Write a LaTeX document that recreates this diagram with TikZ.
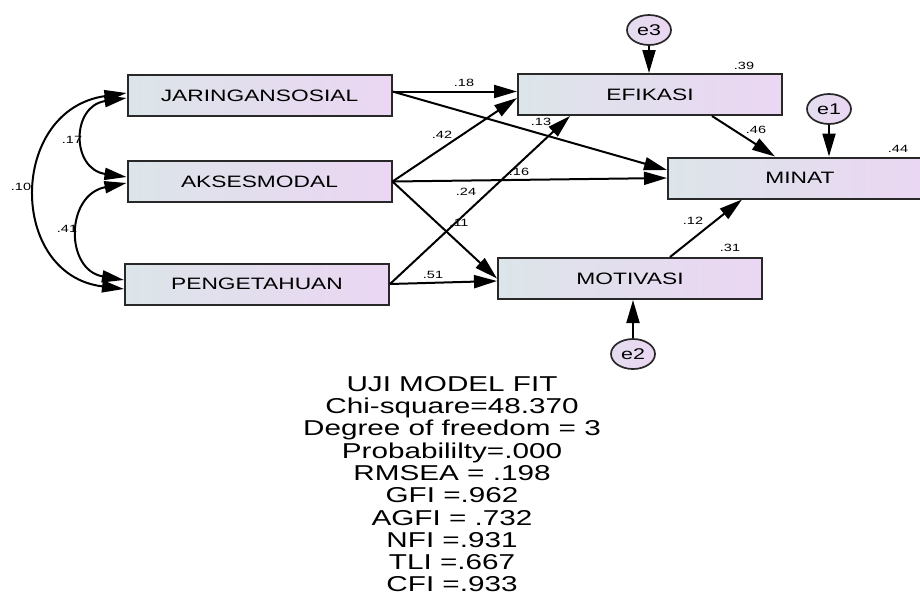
\documentclass[tikz,border=0pt]{standalone}
\usepackage{fontspec}
\setmainfont{Liberation Sans}[FakeStretch=1.38]
\usetikzlibrary{arrows.meta,shapes.geometric}
\definecolor{boxleft}{RGB}{220,229,233}
\definecolor{boxright}{RGB}{235,214,243}
\definecolor{edgegray}{RGB}{40,40,40}
\begin{document}
\begin{tikzpicture}[x=1pt,y=-1pt,
		var/.style={draw=edgegray,line width=2pt,left color=boxleft,right color=boxright,minimum width=264pt,minimum height=41pt,inner sep=0pt,font=\fontsize{16.5}{18}\selectfont},
		err/.style={ellipse,draw=edgegray,line width=1.7pt,left color=boxleft!50!boxright,right color=boxright,minimum width=44pt,minimum height=30pt,inner sep=0pt,font=\fontsize{15.5}{17}\selectfont},
		reg/.style={-{Triangle[length=23pt,width=13pt]},line width=2pt},
		cov/.style={{Triangle[length=22pt,width=12pt]}-{Triangle[length=22pt,width=12pt]},line width=2pt},
		coef/.style={font=\fontsize{10.5}{12}\selectfont,inner sep=0pt}]
		\useasboundingbox (0,0) rectangle (920,595);
		% observed variables
		\node[var] (jar) at (259.5,95.5) {JARINGANSOSIAL};
		\node[var] (akses) at (259.5,181.5) {AKSESMODAL};
		\node[var] (peng) at (257,284) {PENGETAHUAN};
		\node[var] (efik) at (650,94.5) {EFIKASI};
		\node[var] (minat) at (800,178) {MINAT};
		\node[var] (motiv) at (630,278.5) {MOTIVASI};
		% error terms
		\node[err] (e3) at (649,30) {e3};
		\node[err] (e1) at (829,109) {e1};
		\node[err] (e2) at (633,354) {e2};
		% regression paths
		\draw[reg] ([yshift=4pt]jar.east) -- ([yshift=3pt]efik.west);
		\draw[reg] ([yshift=4pt]jar.east) -- ([yshift=8pt]minat.west);
		\draw[reg] (akses.east) -- ([yshift=-3.5pt]efik.west);
		\draw[reg] (akses.east) -- (minat.west);
		\draw[reg] (akses.east) -- (motiv.west);
		\draw[reg] (peng.east) -- ([xshift=-80pt]efik.south);
		\draw[reg] (peng.east) -- ([yshift=-2.5pt]motiv.west);
		\draw[reg] ([xshift=62pt]efik.south) -- ([xshift=-25pt]minat.north);
		\draw[reg] ([xshift=40pt]motiv.north) -- ([xshift=-58pt]minat.south);
		\draw[reg] (e3.south) -- (e3.south |- efik.north);
		\draw[reg] (e1.south) -- (e1.south |- minat.north);
		\draw[reg] (e2.north) -- (e2.north |- motiv.south);
		% covariances
		\draw[cov] ([yshift=-2.5pt]jar.west) .. controls (71,106) and (71,169) .. ([yshift=4.5pt]akses.west);
		\draw[cov] ([yshift=-1.5pt]akses.west) .. controls (65,195) and (65,270) .. ([yshift=4pt]peng.west);
		\draw[cov] ([yshift=2.5pt]jar.west) .. controls (8,110) and (8,275) .. ([yshift=-5pt]peng.west);
		% estimates
		\node[coef] (c18) at (464,83) {.18};
		\node[coef] (c13) at (541,122) {.13};
		\node[coef] (c42) at (442,135) {.42};
		\node[coef] (c16) at (519,172) {.16};
		\node[coef] (c24) at (466,192) {.24};
		\node[coef] (c11) at (459,223) {.11};
		\node[coef] (c51) at (433,275) {.51};
		\node[coef] (c46) at (756,130) {.46};
		\node[coef] (c12) at (693,221) {.12};
		\node[coef] (r39) at (744,66) {.39};
		\node[coef] (r44) at (898,149) {.44};
		\node[coef] (r31) at (730,248) {.31};
		\node[coef] (c17) at (72,140) {.17};
		\node[coef] (c41) at (67,229) {.41};
		\node[coef] (c10) at (21,187) {.10};
		% fit summary
		\node[anchor=north,align=center,inner sep=0pt,font=\fontsize{21.5}{22.3}\selectfont] (fit) at (452,376)
			{UJI MODEL FIT\\Chi-square=48.370\\Degree of freedom = 3\\Probabililty=.000\\RMSEA = .198\\GFI =.962\\AGFI = .732\\NFI =.931\\TLI =.667\\CFI =.933};
	\end{tikzpicture}
\end{document}
